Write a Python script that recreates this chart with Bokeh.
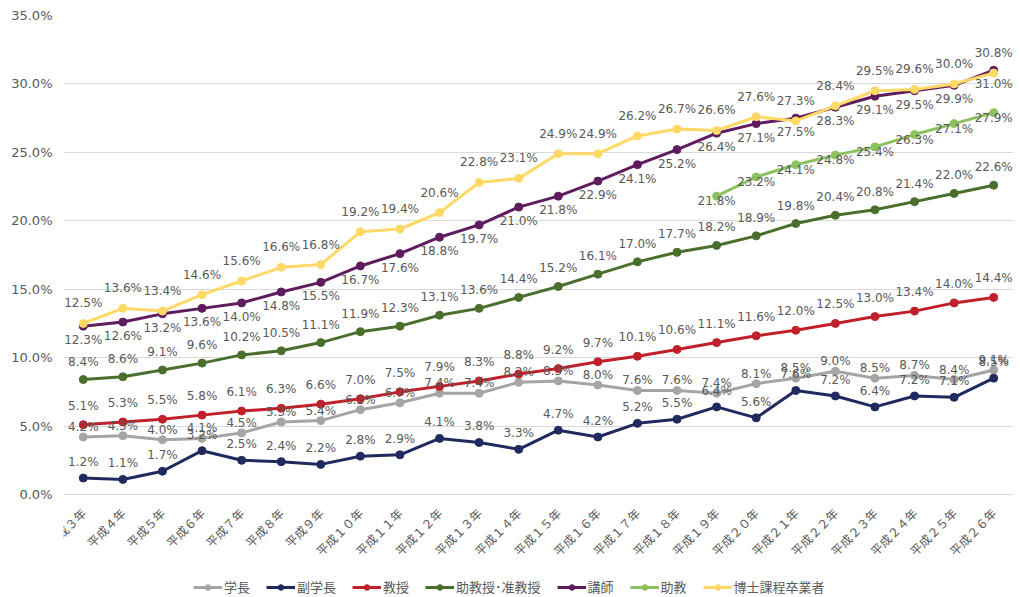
import math
from bokeh.plotting import figure
from bokeh.models import FactorRange, Range1d, PrintfTickFormatter, FixedTicker, Legend, LegendItem
from bokeh.core.properties import value
from bokeh.embed import file_html
from bokeh.resources import INLINE

years = ["平成３年", "平成４年", "平成５年", "平成６年", "平成７年", "平成８年", "平成９年",
         "平成１０年", "平成１１年", "平成１２年", "平成１３年", "平成１４年", "平成１５年",
         "平成１６年", "平成１７年", "平成１８年", "平成１９年", "平成２０年", "平成２１年",
         "平成２２年", "平成２３年", "平成２４年", "平成２５年", "平成２６年"]

gakucho = [4.2, 4.3, 4.0, 4.1, 4.5, 5.3, 5.4, 6.2, 6.7, 7.4, 7.4, 8.2, 8.3, 8.0, 7.6, 7.6,
           7.4, 8.1, 8.5, 9.0, 8.5, 8.7, 8.4, 9.1]
fukugakucho = [1.2, 1.1, 1.7, 3.2, 2.5, 2.4, 2.2, 2.8, 2.9, 4.1, 3.8, 3.3, 4.7, 4.2, 5.2, 5.5,
               6.4, 5.6, 7.6, 7.2, 6.4, 7.2, 7.1, 8.5]
kyoju = [5.1, 5.3, 5.5, 5.8, 6.1, 6.3, 6.6, 7.0, 7.5, 7.9, 8.3, 8.8, 9.2, 9.7, 10.1, 10.6,
         11.1, 11.6, 12.0, 12.5, 13.0, 13.4, 14.0, 14.4]
jokyoju = [8.4, 8.6, 9.1, 9.6, 10.2, 10.5, 11.1, 11.9, 12.3, 13.1, 13.6, 14.4, 15.2, 16.1,
           17.0, 17.7, 18.2, 18.9, 19.8, 20.4, 20.8, 21.4, 22.0, 22.6]
koshi = [12.3, 12.6, 13.2, 13.6, 14.0, 14.8, 15.5, 16.7, 17.6, 18.8, 19.7, 21.0, 21.8, 22.9,
         24.1, 25.2, 26.4, 27.1, 27.5, 28.3, 29.1, 29.5, 29.9, 31.0]
jokyo_years = years[16:]
jokyo = [21.8, 23.2, 24.1, 24.8, 25.4, 26.3, 27.1, 27.9]
hakushi = [12.5, 13.6, 13.4, 14.6, 15.6, 16.6, 16.8, 19.2, 19.4, 20.6, 22.8, 23.1, 24.9, 24.9,
           26.2, 26.7, 26.6, 27.6, 27.3, 28.4, 29.5, 29.6, 30.0, 30.8]

# name, x, values, color, label y offset (px)
series = [
    ("学長", years, gakucho, "#A5A5A5", -10),
    ("副学長", years, fukugakucho, "#1F2A5E", -16),
    ("教授", years, kyoju, "#C0202A", -19),
    ("助教授･准教授", years, jokyoju, "#4A6E2C", -18),
    ("講師", years, koshi, "#5E1C5F", 14),
    ("助教", jokyo_years, jokyo, "#8CC25E", 5),
    ("博士課程卒業者", years, hakushi, "#FFD966", -20),
]

# plot area: 0% at 479 px below the 35% line; 103 px kept below 0% for the
# category labels and the legend (drawn inside the frame so nothing is clipped)
Y_MAX = 35
y_min = -103 * Y_MAX / 479

p = figure(x_range=FactorRange(*years), y_range=Range1d(y_min, Y_MAX),
           width=1020, height=597, output_backend="svg", toolbar_location=None,
           min_border_left=63, min_border_right=7, min_border_top=15, min_border_bottom=0)
p.outline_line_color = None
p.background_fill_color = "white"
p.xgrid.grid_line_color = None
p.ygrid.grid_line_color = "#D9D9D9"
p.ygrid.grid_line_width = 1
p.ygrid.ticker = FixedTicker(ticks=[0, 5, 10, 15, 20, 25, 30, 35])

p.yaxis.ticker = FixedTicker(ticks=[0, 5, 10, 15, 20, 25, 30, 35])
p.yaxis.formatter = PrintfTickFormatter(format="%.1f%%")
p.yaxis.axis_line_color = None
p.yaxis.major_tick_line_color = None
p.yaxis.minor_tick_line_color = None
p.yaxis.major_tick_out = 0
p.yaxis.major_label_standoff = 11
p.yaxis.major_label_text_font = "DejaVu Sans"
p.yaxis.major_label_text_font_size = "13px"
p.yaxis.major_label_text_color = "#595959"

p.xaxis.visible = False

# category labels, rotated 45°, hanging below the 0% line
p.text(x=years, y=0, text=years, angle=math.pi / 4, text_align="right",
       text_baseline="middle", y_offset=16, text_font=value("Noto Sans CJK JP"),
       text_font_size="12px", text_color="#595959")

items = []
for name, xs, vals, color, off in series:
    rl = p.line(x=xs, y=vals, line_color=color, line_width=3)
    rs = p.scatter(x=xs, y=vals, size=8, fill_color=color, line_color=color)
    items.append(LegendItem(label=name, renderers=[rl, rs]))

for name, xs, vals, color, off in series:
    p.text(x=xs, y=vals, text=[f"{v:.1f}%" for v in vals], text_align="center",
           text_baseline="middle", y_offset=off, text_font=value("DejaVu Sans"),
           text_font_size="12px", text_color="#595959")

legend = Legend(items=items, orientation="horizontal", location=(130, 1),
                border_line_color=None, background_fill_alpha=0,
                label_text_font="Noto Sans CJK JP", label_text_font_size="13px",
                label_text_color="#595959", glyph_width=29, glyph_height=14,
                label_standoff=2, spacing=16, padding=0, margin=0)
p.add_layout(legend, "center")

open("out.html", "w").write(file_html(p, INLINE))
